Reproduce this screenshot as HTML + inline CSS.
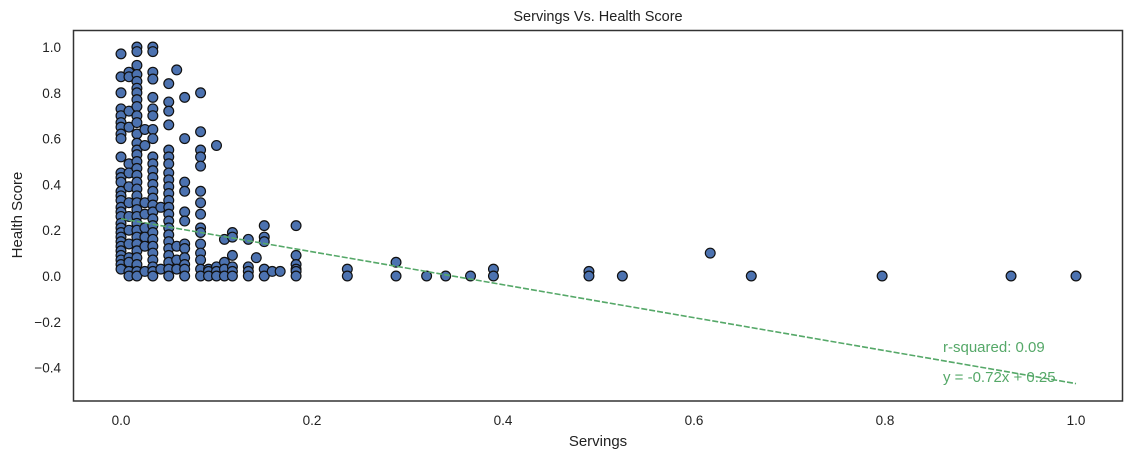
<!DOCTYPE html>
<html><head><meta charset="utf-8"><style>
html,body{margin:0;padding:0;background:#fff;}
svg{display:block;font-family:"Liberation Sans","DejaVu Sans",sans-serif;}
</style></head><body>
<svg id="chart" width="1133" height="459" xmlns="http://www.w3.org/2000/svg">
<rect x="0" y="0" width="1133" height="459" fill="#fff"/>
<text x="598" y="21" text-anchor="middle" font-size="14.5" fill="#222">Servings Vs. Health Score</text>
<text x="598" y="446" text-anchor="middle" font-size="15" fill="#222">Servings</text>
<text transform="translate(22,215) rotate(-90)" text-anchor="middle" font-size="15" fill="#222">Health Score</text>
<g id="ticks"></g>
<g id="points"></g>
<g id="fit"></g>
<rect x="73.5" y="30.5" width="1049" height="370.5" fill="none" stroke="#333" stroke-width="1.5"/>
<text x="943" y="352" font-size="15" fill="#55a868">r-squared: 0.09</text>
<text x="943" y="382" font-size="15" fill="#55a868">y = -0.72x + 0.25</text>
</svg>
<script>
const xTicks = [0, 0.2, 0.4, 0.6, 0.8, 1.0];
const xTickLabels = ["0.0", "0.2", "0.4", "0.6", "0.8", "1.0"];
const yTicks = [-0.4, -0.2, 0, 0.2, 0.4, 0.6, 0.8, 1.0];
const yTickLabels = ["\u22120.4", "\u22120.2", "0.0", "0.2", "0.4", "0.6", "0.8", "1.0"];
const slope = -0.72;
const intercept = 0.25;
const colX = [0, 1/120, 2/120, 3/120, 4/120, 5/120, 6/120, 7/120, 8/120, 10/120, 11/120, 12/120, 13/120, 14/120, 16/120, 17/120, 18/120, 19/120, 20/120, 22/120, 0.237, 0.288, 0.32, 0.34, 0.366, 0.39, 0.49, 0.525, 0.617, 0.66, 0.797, 0.932, 1.0];
const colY = [
 [0.97,0.87,0.80,0.73,0.70,0.67,0.65,0.62,0.60,0.52,0.45,0.43,0.41,0.37,0.35,0.33,0.30,0.28,0.26,0.23,0.21,0.19,0.17,0.15,0.13,0.11,0.09,0.07,0.05,0.03],
 [0.89,0.87,0.72,0.65,0.49,0.45,0.39,0.32,0.26,0.20,0.14,0.08,0.06,0.02,0.0],
 [1.0,0.98,0.92,0.88,0.85,0.82,0.80,0.77,0.74,0.70,0.67,0.62,0.58,0.55,0.53,0.50,0.47,0.44,0.41,0.38,0.35,0.32,0.29,0.26,0.23,0.20,0.17,0.14,0.11,0.08,0.05,0.02,0.0],
 [0.64,0.57,0.32,0.27,0.21,0.17,0.13,0.02],
 [1.0,0.98,0.89,0.86,0.78,0.73,0.70,0.64,0.60,0.52,0.49,0.46,0.43,0.40,0.37,0.34,0.31,0.28,0.25,0.22,0.19,0.16,0.13,0.10,0.07,0.04,0.02,0.0],
 [0.30,0.03],
 [0.84,0.76,0.72,0.66,0.55,0.52,0.49,0.45,0.42,0.39,0.36,0.33,0.30,0.27,0.24,0.21,0.18,0.15,0.12,0.09,0.06,0.03,0.0],
 [0.90,0.13,0.07,0.03],
 [0.78,0.60,0.41,0.37,0.28,0.24,0.14,0.12,0.08,0.05,0.03,0.0],
 [0.80,0.63,0.55,0.52,0.48,0.37,0.32,0.27,0.21,0.19,0.14,0.10,0.07,0.03,0.0],
 [0.03,0.02,0.0],
 [0.57,0.04,0.02,0.0],
 [0.16,0.06,0.03,0.0],
 [0.19,0.17,0.09,0.04,0.02,0.0],
 [0.16,0.04,0.02,0.0],
 [0.08],
 [0.22,0.17,0.15,0.03,0.0],
 [0.02],
 [0.02],
 [0.22,0.09,0.05,0.03,0.02,0.0],
 [0.03,0.0],
 [0.06,0.0],
 [0.0],
 [0.0],
 [0.0],
 [0.03,0.0],
 [0.02,0.0],
 [0.0],
 [0.10],
 [0.0],
 [0.0],
 [0.0],
 [0.0]
];
const NS = "http://www.w3.org/2000/svg";
function sx(v){ return 121 + v * 955; }
function sy(v){ return 276 - v * 229; }
const ticksG = document.getElementById('ticks');
xTicks.forEach((t, i) => {
  const tx = document.createElementNS(NS, 'text');
  tx.setAttribute('x', sx(t)); tx.setAttribute('y', 425);
  tx.setAttribute('text-anchor', 'middle'); tx.setAttribute('font-size', '13.5'); tx.setAttribute('fill', '#222');
  tx.textContent = xTickLabels[i];
  
  
  ticksG.appendChild(tx);
});
yTicks.forEach((t, i) => {
  const tx = document.createElementNS(NS, 'text');
  tx.setAttribute('x', 61); tx.setAttribute('y', sy(t) + 5);
  tx.setAttribute('text-anchor', 'end'); tx.setAttribute('font-size', '13.5'); tx.setAttribute('fill', '#222');
  tx.textContent = yTickLabels[i];
  
  
  ticksG.appendChild(tx);
});
const ptsG = document.getElementById('points');
colX.forEach((x, i) => {
  colY[i].forEach(y => {
    const c = document.createElementNS(NS, 'circle');
    c.setAttribute('cx', sx(x)); c.setAttribute('cy', sy(y)); c.setAttribute('r', 4.9);
    c.setAttribute('fill', '#4c72b0'); c.setAttribute('stroke', '#111'); c.setAttribute('stroke-width', '1.2');
    
    
    ptsG.appendChild(c);
  });
});
const fitG = document.getElementById('fit');
const ln = document.createElementNS(NS, 'line');
ln.setAttribute('x1', sx(0)); ln.setAttribute('y1', sy(intercept));
ln.setAttribute('x2', sx(1)); ln.setAttribute('y2', sy(slope + intercept));
ln.setAttribute('stroke', '#55a868'); ln.setAttribute('stroke-width', '1.6'); ln.setAttribute('stroke-dasharray', '6,2');


fitG.appendChild(ln);
</script>
</body></html>
